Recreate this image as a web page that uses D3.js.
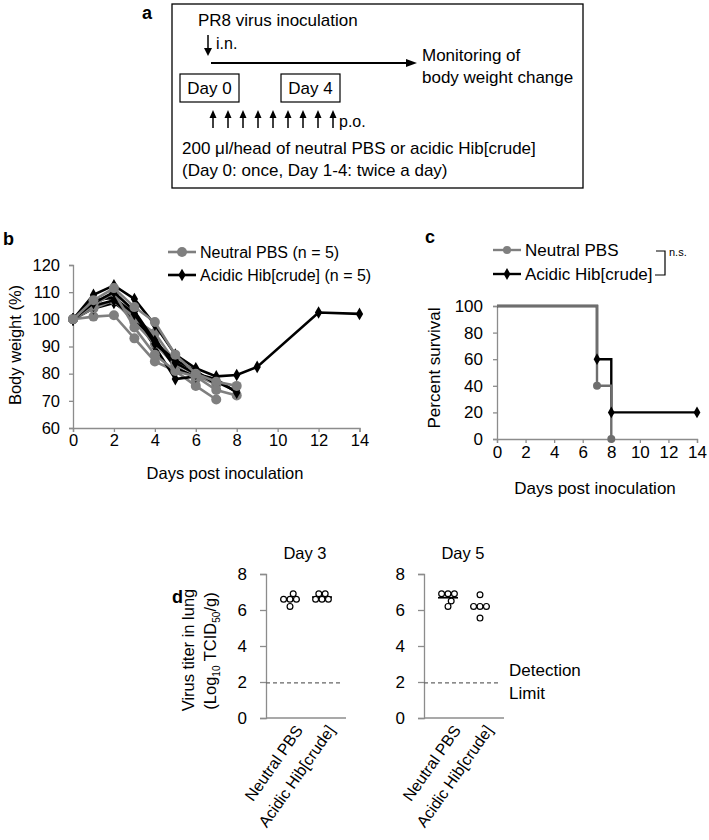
<!DOCTYPE html>
<html><head><meta charset="utf-8">
<script src="https://cdn.jsdelivr.net/npm/d3@7"></script>
<style>
body{margin:0;background:#fff;}
svg{font-family:"Liberation Sans",Arial,Helvetica,sans-serif;}
</style></head>
<body><svg id="chart" width="709" height="840"></svg>
<script>
// ---------- DATA ----------
// Panel b: body weight (%) by day
const bwDays = [0,1,2,3,4,5,6,7,8,9,12,14];
const neutral1 = [100,107,111.5,104.5,99,87,80,77,75.5,null,null,null];
const neutral2 = [100,105,110,97,87,81,79,74,72,null,null,null];
const neutral3 = [100,101,101.5,93,84.5,81,75.5,70.5,null,null,null,null];
const neutral4 = [100,106,109,100,95,84,79.5,76,null,null,null,null];
const neutral5 = [100,104,107,99,91,83,78,null,null,null,null,null];
const acidic1 = [100,109,112.5,107.5,98,87,82,79,79.5,82.5,102.5,102];
const acidic2 = [100,104,106,101,90,78,79,77,73.5,null,null,null];
const acidic3 = [100,106,110,103,92,84,80,78,73,null,null,null];
const acidic4 = [100,107,108,102,91,85,81,76,null,null,null,null];
const acidic5 = [100,105,107,100,93,82,79,null,null,null,null,null];
const bwYTicks = [60,70,80,90,100,110,120];
const dayTicks = [0,2,4,6,8,10,12,14];
// Panel c: survival
const survDaysNeutral = [0,7,8];
const survPctNeutral = [100,40,0];
const survDaysAcidic = [0,7,8,14];
const survPctAcidic = [100,60,20,20];
const survYTicks = [0,20,40,60,80,100];
// Panel d: virus titer (log10 TCID50/g)
const groups = ["Neutral PBS","Acidic Hib[crude]"];
const day3Neutral = [6.9,6.6,6.6,6.6,6.2];
const day3Acidic = [6.9,6.9,6.6,6.6,6.6];
const day5Neutral = [6.9,6.9,6.9,6.5,6.2];
const day5Acidic = [6.85,6.2,6.2,6.2,5.55];
const titerTicks = [0,2,4,6,8];
const detectionLimit = 1.95;

const GRAY = "#7f7f7f", AXIS = "#8c8c8c";
const svg = d3.select("#chart");

function styleAxis(fs){
  return function(g){
    g.select(".domain").attr("stroke",AXIS).attr("stroke-width",1.3);
    g.selectAll(".tick line").attr("stroke",AXIS).attr("stroke-width",1.3);
    g.selectAll(".tick text").attr("fill","#000").style("font-size",fs+"px").style("font-family","Liberation Sans, Arial, sans-serif");
  };
}
const diamond = d3.symbol().type(d3.symbolDiamond);

// ---------- PANEL A ----------
(function(){
  const FS = 17;
  const g = svg.append("g");
  g.append("text").attr("x",142).attr("y",19).text("a").style("font-weight","bold").style("font-size","18px");
  g.append("rect").attr("x",172).attr("y",4).attr("width",411).attr("height",184).attr("fill","none").attr("stroke","#000").attr("stroke-width",1.3);
  const t = (x,y,s,anchor)=>g.append("text").attr("x",x).attr("y",y).attr("dy","0.35em").style("font-size",FS+"px").attr("text-anchor",anchor||"start").text(s);
  t(198,20,"PR8 virus inoculation");
  g.append("line").attr("x1",208).attr("x2",208).attr("y1",35).attr("y2",50).attr("stroke","#000").attr("stroke-width",1.5);
  g.append("path").attr("d","M204,48 L208,56 L212,48 Z").attr("fill","#000");
  t(216,43,"i.n.").style("font-size","16px");
  g.append("line").attr("x1",211).attr("x2",408).attr("y1",63).attr("y2",63).attr("stroke","#000").attr("stroke-width",1.8);
  g.append("path").attr("d","M406,59 L417,63 L406,67 Z").attr("fill","#000");
  t(422,55,"Monitoring of");
  t(422,77,"body weight change");
  g.append("rect").attr("x",180).attr("y",74).attr("width",59).attr("height",28).attr("fill","none").attr("stroke","#000").attr("stroke-width",1.2);
  t(209.5,88,"Day 0","middle");
  g.append("rect").attr("x",281).attr("y",74).attr("width",59).attr("height",28).attr("fill","none").attr("stroke","#000").attr("stroke-width",1.2);
  t(310.5,88,"Day 4","middle");
  d3.range(9).forEach(i=>{
    const x = 213 + i*15;
    g.append("line").attr("x1",x).attr("x2",x).attr("y1",117).attr("y2",128).attr("stroke","#000").attr("stroke-width",1.5);
    g.append("path").attr("d",`M${x-3.5},118 L${x},110 L${x+3.5},118 Z`).attr("fill","#000");
  });
  t(339,121,"p.o.").style("font-size","16px");
  t(182,148,"200 \u03bcl/head of neutral PBS or acidic Hib[crude]");
  t(182,170,"(Day 0: once, Day 1-4: twice a day)");
})();

// ---------- PANEL B ----------
(function(){
  const FS = 16;
  const x = d3.scaleLinear().domain([0,14]).range([73,359.5]);
  const y = d3.scaleLinear().domain([60,120]).range([428,265]);
  const g = svg.append("g");
  g.append("text").attr("x",3).attr("y",245).text("b").style("font-weight","bold").style("font-size","18px");
  g.append("g").attr("transform","translate(73,0)").call(d3.axisLeft(y).tickValues(bwYTicks).tickSize(4).tickPadding(9)).call(styleAxis(16.5));
  g.append("g").attr("transform","translate(0,428)").call(d3.axisBottom(x).tickValues(dayTicks).tickSize(4).tickPadding(2)).call(styleAxis(16.5));
  g.append("text").attr("transform","translate(15,345) rotate(-90)").attr("text-anchor","middle").attr("dy","0.35em").style("font-size","16.5px").text("Body weight (%)");
  g.append("text").attr("x",225).attr("y",473).attr("text-anchor","middle").attr("dy","0.35em").style("font-size","16.5px").text("Days post inoculation");
  const series = [
    {v:neutral3,c:GRAY,m:"circle"},{v:acidic2,c:"#000",m:"diamond"},
    {v:neutral5,c:GRAY,m:"circle"},{v:acidic5,c:"#000",m:"diamond"},
    {v:neutral4,c:GRAY,m:"circle"},{v:acidic4,c:"#000",m:"diamond"},
    {v:neutral2,c:GRAY,m:"circle"},{v:acidic3,c:"#000",m:"diamond"},
    {v:acidic1,c:"#000",m:"diamond"},{v:neutral1,c:GRAY,m:"circle"}
  ];
  const line = d3.line().x(d=>x(d[0])).y(d=>y(d[1]));
  series.forEach(s=>{
    const pts = bwDays.map((d,i)=>[d,s.v[i]]).filter(p=>p[1]!=null);
    g.append("path").attr("d",line(pts)).attr("fill","none").attr("stroke",s.c).attr("stroke-width",2.6);
    pts.forEach(p=>{
      if(s.m==="circle") g.append("circle").attr("cx",x(p[0])).attr("cy",y(p[1])).attr("r",5).attr("fill",s.c);
      else g.append("path").attr("d",diamond.size(46)()).attr("transform",`translate(${x(p[0])},${y(p[1])})`).attr("fill",s.c);
    });
  });
  g.append("line").attr("x1",168).attr("x2",196).attr("y1",252).attr("y2",252).attr("stroke",GRAY).attr("stroke-width",2.6);
  g.append("circle").attr("cx",182).attr("cy",252).attr("r",5).attr("fill",GRAY);
  g.append("text").attr("x",200).attr("y",252).attr("dy","0.35em").style("font-size",FS+"px").text("Neutral PBS (n = 5)");
  g.append("line").attr("x1",168).attr("x2",196).attr("y1",275).attr("y2",275).attr("stroke","#000").attr("stroke-width",2.6);
  g.append("path").attr("d",diamond.size(46)()).attr("transform","translate(182,275)").attr("fill","#000");
  g.append("text").attr("x",200).attr("y",275).attr("dy","0.35em").style("font-size",FS+"px").text("Acidic Hib[crude] (n = 5)");
})();

// ---------- PANEL C ----------
(function(){
  const FS = 17;
  const x = d3.scaleLinear().domain([0,14]).range([497,697]);
  const y = d3.scaleLinear().domain([0,100]).range([439,306]);
  const g = svg.append("g");
  g.append("text").attr("x",425).attr("y",243).text("c").style("font-weight","bold").style("font-size","18px");
  g.append("g").attr("transform","translate(497,0)").call(d3.axisLeft(y).tickValues(survYTicks).tickSize(4).tickPadding(10)).call(styleAxis(FS));
  g.append("g").attr("transform","translate(0,439)").call(d3.axisBottom(x).tickValues(dayTicks).tickSize(4).tickPadding(3)).call(styleAxis(FS));
  g.append("text").attr("transform","translate(434,368) rotate(-90)").attr("text-anchor","middle").attr("dy","0.35em").style("font-size",FS+"px").text("Percent survival");
  g.append("text").attr("x",595).attr("y",488).attr("text-anchor","middle").attr("dy","0.35em").style("font-size",FS+"px").text("Days post inoculation");
  const line = d3.line().x(d=>x(d[0])).y(d=>y(d[1])).curve(d3.curveStepAfter);
  const ac = survDaysAcidic.map((d,i)=>[d,survPctAcidic[i]]);
  const ne = survDaysNeutral.map((d,i)=>[d,survPctNeutral[i]]);
  g.append("path").attr("d",line(ac)).attr("fill","none").attr("stroke","#000").attr("stroke-width",2.4);
  g.append("path").attr("d",line(ne)).attr("fill","none").attr("stroke","#6e6e6e").attr("stroke-width",2.4);
  ne.slice(1).forEach(p=>g.append("circle").attr("cx",x(p[0])).attr("cy",y(p[1])).attr("r",4).attr("fill","#6e6e6e"));
  ac.slice(1).forEach(p=>g.append("path").attr("d",diamond.size(40)()).attr("transform",`translate(${x(p[0])},${y(p[1])})`).attr("fill","#000"));
  g.append("line").attr("x1",493).attr("x2",521).attr("y1",250).attr("y2",250).attr("stroke",GRAY).attr("stroke-width",2.4);
  g.append("circle").attr("cx",507).attr("cy",250).attr("r",4).attr("fill",GRAY);
  g.append("text").attr("x",525).attr("y",250).attr("dy","0.35em").style("font-size",FS+"px").text("Neutral PBS");
  g.append("line").attr("x1",493).attr("x2",521).attr("y1",274).attr("y2",274).attr("stroke","#000").attr("stroke-width",2.4);
  g.append("path").attr("d",diamond.size(40)()).attr("transform","translate(507,274)").attr("fill","#000");
  g.append("text").attr("x",525).attr("y",274).attr("dy","0.35em").style("font-size",FS+"px").text("Acidic Hib[crude]");
  g.append("path").attr("d","M656,251 H665 V275 H655").attr("fill","none").attr("stroke","#000").attr("stroke-width",1.2);
  g.append("text").attr("x",669).attr("y",256).style("font-size","11px").text("n.s.");
})();

// ---------- PANEL D ----------
function dodge(values, y, xc, r){
  const placed = [];
  const order = values.map((v,i)=>i).sort((a,b)=>values[a]-values[b]);
  const out = new Array(values.length);
  const minD = 2*r + 0.2;
  order.forEach(i=>{
    const cy = y(values[i]);
    for(let k=0;k<60;k++){
      const off = k===0?0:(k%2?1:-1)*Math.ceil(k/2)*1.6;
      const cx = xc+off;
      if(placed.every(p=>Math.hypot(p[0]-cx,p[1]-cy)>=minD)){placed.push([cx,cy]);out[i]=[cx,cy];break;}
    }
  });
  return out;
}
function titerPanel(x0,x1,title,vals){
  const FS = 16;
  const g = svg.append("g");
  const y = d3.scaleLinear().domain([0,8]).range([718,574]);
  const x = d3.scalePoint().domain(groups).range([x0,x1]).padding(0.75);
  g.append("g").attr("transform",`translate(${x0},0)`).call(d3.axisLeft(y).tickValues(titerTicks).tickSize(6).tickPadding(13)).call(styleAxis(17));
  g.append("line").attr("x1",x0).attr("x2",x1).attr("y1",718).attr("y2",718).attr("stroke",AXIS).attr("stroke-width",1.3);
  g.append("text").attr("x",(x0+x1)/2 - 1).attr("y",553).attr("text-anchor","middle").attr("dy","0.35em").style("font-size","16.5px").text(title);
  g.append("line").attr("x1",x0).attr("x2",x1-4).attr("y1",y(detectionLimit)).attr("y2",y(detectionLimit))
    .attr("stroke","#666").attr("stroke-width",1.1).attr("stroke-dasharray","4,3");
  groups.forEach((gr,gi)=>{
    const xc = x(gr);
    const pts = dodge(vals[gi], y, xc, 3);
    const m = d3.mean(vals[gi]);
    g.append("line").attr("x1",xc-10).attr("x2",xc+10).attr("y1",y(m)).attr("y2",y(m)).attr("stroke","#000").attr("stroke-width",1.6);
    pts.forEach(p=>g.append("circle").attr("cx",p[0]).attr("cy",p[1]).attr("r",2.9).attr("fill","#fff").attr("stroke","#000").attr("stroke-width",1.2));
    g.append("text").attr("transform",`translate(${xc+9},727) rotate(-55)`).attr("text-anchor","end").attr("dy","0.35em").style("font-size",FS+"px").text(gr);
  });
}
svg.append("text").attr("x",172).attr("y",603).text("d").style("font-weight","bold").style("font-size","18px");
titerPanel(266,346,"Day 3",[day3Neutral,day3Acidic]);
titerPanel(424,504,"Day 5",[day5Neutral,day5Acidic]);
(function(){
  const g = svg.append("g");
  g.append("text").attr("transform","translate(188,650) rotate(-90)").attr("text-anchor","middle").attr("dy","0.35em").style("font-size","16.5px").text("Virus titer in lung");
  const t = g.append("text").attr("transform","translate(210,651) rotate(-90)").attr("text-anchor","middle").attr("dy","0.35em").style("font-size","16.5px");
  t.append("tspan").text("(Log");
  t.append("tspan").attr("dy",4).style("font-size","10px").text("10");
  t.append("tspan").attr("dy",-4).text(" TCID");
  t.append("tspan").attr("dy",4).style("font-size","10px").text("50");
  t.append("tspan").attr("dy",-4).text("/g)");
  g.append("text").attr("x",509).attr("y",670).attr("dy","0.35em").style("font-size","17px").text("Detection");
  g.append("text").attr("x",509).attr("y",693).attr("dy","0.35em").style("font-size","17px").text("Limit");
})();
</script></body></html>
